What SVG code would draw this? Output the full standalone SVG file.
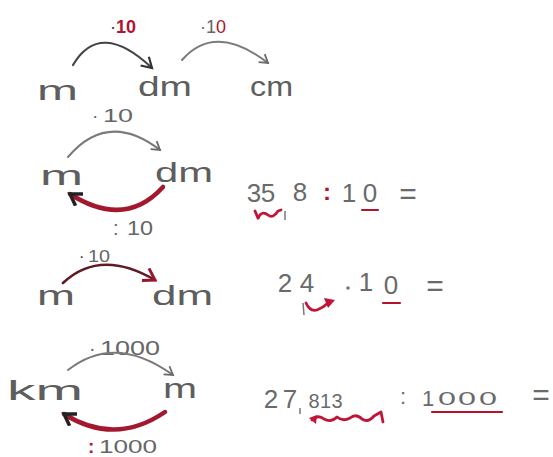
<svg xmlns="http://www.w3.org/2000/svg" width="553" height="457" viewBox="0 0 553 457">
<defs>
<style>
.lab{font-family:"Liberation Sans",Arial,sans-serif;fill:#666;}
.unit{font-family:"Liberation Sans",Arial,sans-serif;fill:#5e5e5e;font-size:27px;}
.num{font-family:"Liberation Sans",Arial,sans-serif;fill:#6a6a6a;text-anchor:middle;}
.red{fill:#b3132e;}
.dk{fill:#333;}
.g{fill:none;stroke:#7a7a7a;stroke-width:2;stroke-linecap:round;}
.gd{fill:none;stroke:#444;stroke-width:2.2;stroke-linecap:round;}
.r{fill:none;stroke:#a3182f;stroke-width:4.5;stroke-linecap:round;}
.rt{fill:none;stroke:#c01535;stroke-width:2.8;stroke-linecap:round;stroke-linejoin:round;}
.ul{stroke:#b3132e;stroke-width:2.2;stroke-linecap:round;}
</style>
<marker id="ag" markerWidth="12" markerHeight="12" refX="9" refY="6" orient="auto" markerUnits="userSpaceOnUse"><path d="M1,1 L9,6 L1,11" fill="none" stroke="#6a6a6a" stroke-width="1.8"/></marker>
<marker id="ad" markerWidth="14" markerHeight="14" refX="11" refY="7" orient="auto" markerUnits="userSpaceOnUse"><path d="M1,1 L11,7 L1,13" fill="none" stroke="#333" stroke-width="2.2"/></marker>
<marker id="ar" markerWidth="16" markerHeight="16" refX="12" refY="8" orient="auto" markerUnits="userSpaceOnUse"><path d="M1,1 L12,8 L1,15" fill="none" stroke="#9a1530" stroke-width="3"/></marker>
<marker id="ab" markerWidth="16" markerHeight="16" refX="12" refY="8" orient="auto" markerUnits="userSpaceOnUse"><path d="M1,1 L12,8 L1,15" fill="none" stroke="#222" stroke-width="3.5"/></marker>
</defs>

<g id="row1">
<text class="lab" x="110" y="33" font-size="18"><tspan class="dk">·</tspan><tspan class="red" font-weight="bold">10</tspan></text>
<text class="lab" x="200" y="33" font-size="18"><tspan>·</tspan><tspan>1</tspan><tspan class="red">0</tspan></text>
<text id="n-m1" class="unit" x="37" y="100" textLength="41" lengthAdjust="spacingAndGlyphs">m</text>
<text id="n-dm1" class="unit" x="138" y="96" textLength="54" lengthAdjust="spacingAndGlyphs">dm</text>
<text id="n-cm1" class="unit" x="250" y="96" textLength="43" lengthAdjust="spacingAndGlyphs">cm</text>
</g>

<g id="row2">
<text class="lab" x="92" y="122" font-size="19">·</text>
<text class="lab" x="103" y="122" font-size="19" textLength="30" lengthAdjust="spacingAndGlyphs">10</text>
<text id="n-m2" class="unit" x="40" y="185" textLength="43" lengthAdjust="spacingAndGlyphs">m</text>
<text id="n-dm2" class="unit" x="155" y="182" textLength="58" lengthAdjust="spacingAndGlyphs">dm</text>
<text class="lab" x="113" y="235" font-size="20">:</text>
<text class="lab" x="127" y="235" font-size="20" textLength="26" lengthAdjust="spacingAndGlyphs">10</text>
<g id="eq1" font-size="26">
<text class="num" x="254" y="202">3</text>
<text class="num" x="268" y="202">5</text>
<text class="num" x="300" y="201">8</text>
<text class="num red" x="327" y="200" font-weight="bold" font-size="24">:</text>
<text class="num" x="349" y="202">1</text>
<text class="num" x="370" y="202">0</text>
<text class="num" x="408" y="204" font-size="30">=</text>
<line class="ul" x1="362" y1="210" x2="378" y2="210"/>
<path class="rt" d="M258,218 Q262,210 268,215 Q273,219 278,211 L281,210"/>
<path class="rt" d="M258,218 L255,211"/>
<line x1="285" y1="211" x2="285" y2="220" stroke="#777" stroke-width="1.5"/>
</g>
</g>

<g id="row3">
<text class="lab" x="79" y="262" font-size="16"><tspan class="dk">·</tspan></text>
<text class="lab" x="88" y="262" font-size="16" textLength="22" lengthAdjust="spacingAndGlyphs" fill="#4a3a3c">10</text>
<text id="n-m3" class="unit" x="37" y="305" textLength="38" lengthAdjust="spacingAndGlyphs">m</text>
<text id="n-dm3" class="unit" x="152" y="305" textLength="61" lengthAdjust="spacingAndGlyphs">dm</text>
<g id="eq2" font-size="26">
<text class="num" x="285" y="292">2</text>
<text class="num" x="307" y="292">4</text>
<circle cx="348" cy="288" r="1.8" fill="#777"/>
<text class="num" x="366" y="291">1</text>
<text class="num" x="391" y="294" fill="#444">0</text>
<text class="num" x="435" y="296" font-size="30">=</text>
<line class="ul" x1="383" y1="303" x2="400" y2="303"/>
<path class="rt" d="M306,303 Q310,312 317,310 Q324,307 328,303"/>
<path d="M324,298 L335,300 L328,308 Z" fill="#c01535"/>
<line x1="303" y1="303" x2="304" y2="315" stroke="#777" stroke-width="1.5"/>
</g>
</g>

<g id="row4">
<text class="lab" x="89" y="355" font-size="20">·</text>
<text class="lab" x="100" y="355" font-size="20" textLength="60" lengthAdjust="spacingAndGlyphs">1000</text>
<text id="n-km4" class="unit" x="7" y="400" textLength="76" lengthAdjust="spacingAndGlyphs">km</text>
<text id="n-m4" class="unit" x="163" y="398" textLength="34" lengthAdjust="spacingAndGlyphs">m</text>
<text class="lab red" x="88" y="453" font-size="19" font-weight="bold">:</text>
<text class="lab" x="99" y="453" font-size="19" textLength="58" lengthAdjust="spacingAndGlyphs">1000</text>
<g id="eq3" font-size="26">
<text class="num" x="271" y="408">2</text>
<text class="num" x="290" y="408">7</text>
<text class="num" x="314" y="408" font-size="20">8</text>
<text class="num" x="325.5" y="408" font-size="20">1</text>
<text class="num" x="337" y="408" font-size="20">3</text>
<text class="num" x="403" y="404" font-size="22">:</text>
<text class="num" x="428" y="406" font-size="22">1</text>
<text class="num" x="447" y="405" font-size="19" textLength="18" lengthAdjust="spacingAndGlyphs">0</text>
<text class="num" x="467" y="405" font-size="19" textLength="18" lengthAdjust="spacingAndGlyphs">0</text>
<text class="num" x="488" y="405" font-size="19" textLength="18" lengthAdjust="spacingAndGlyphs">0</text>
<text class="num" x="541" y="405" font-size="30">=</text>
<line class="ul" x1="432" y1="412" x2="502" y2="412"/>
<path class="rt" d="M312,420 Q318,414 324,419 Q331,423 337,417 Q343,422 350,418 Q356,413 362,419 Q368,423 374,416 L381,412 L383,422"/>
<path d="M309,418 L317,415 L316,424 Z" fill="#c01535"/>
<line x1="300" y1="408" x2="300" y2="414" stroke="#777" stroke-width="1.5"/>
</g>
</g>

<g id="connectors">
<path class="gd" d="M73,65 Q100,19 152,68" marker-end="url(#ad)"/>
<path class="g" d="M182,60 Q215,22 268,63" marker-end="url(#ag)"/>
<path class="g" d="M68,157 Q108,110 160,150" marker-end="url(#ag)"/>
<path class="r" d="M163,187 Q125,229 70,194" marker-end="url(#ab)"/>
<path d="M63,283 Q100,248 155,280" fill="none" stroke="#5e1a26" stroke-width="2.6" stroke-linecap="round" marker-end="url(#ar)"/>
<path class="g" d="M68,370 Q115,333 173,375" marker-end="url(#ag)"/>
<path class="r" d="M165,412 Q115,446 64,414" marker-end="url(#ab)"/>
</g>
</svg>
